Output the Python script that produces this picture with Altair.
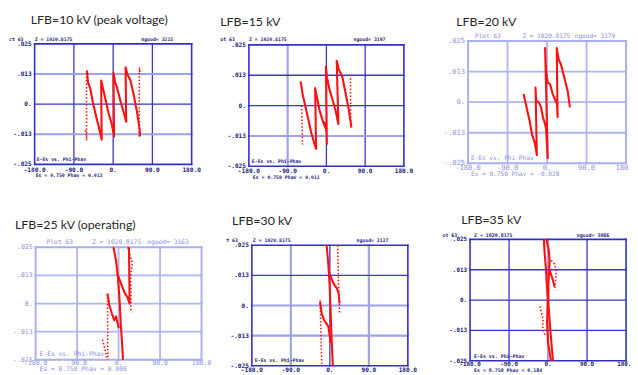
import altair as alt
import pandas as pd

# ---------------- text content ----------------
titles = ["LFB=10 kV (peak voltage)", "LFB=15 kV", "LFB=20 kV",
          "LFB=25 kV (operating)", "LFB=30 kV", "LFB=35 kV"]
plot_tags = ["ct 63", "ot 63", "Plot 63", "Plot 63", "t 63", "ot 63"]
ngood = ["3215", "3197", "3179", "3163", "3127", "3086"]
phav = ["0.013", "0.011", "-0.028", "0.008", "", "0.184"]

x_ticks = [-180, -90, 0, 90, 180]
x_tick_labels = ["-180.0", "-90.0", "0.", "90.0", "180.0"]
y_ticks = [-0.025, -0.0125, 0, 0.0125, 0.025]
y_tick_labels = ["-.025", "-.013", "0.", ".013", ".025"]
x_grid = [-90, 0, 90]
y_grid = [0.0125, 0, -0.0125]

# ---------------- data (phi-phav [deg], E-Es) ----------------
# Panel 1: LFB=10 kV
p1_main_phi = [-60, -57.8, -52.4, -46.6, -38.9, -33.1, -26.3, -27.5, -24, -18, -10.5, -3.8, 2.2,
               0.7, 4.5, 9.7, 17.3, 24.8, 29.9, 28.5, 32.2, 39.8, 47.3, 54.7, 60.8, 61.5]
p1_main_e = [0.0139, 0.0091, 0.0064, 0.0009, -0.0052, -0.0093, -0.0148, 0.0098, 0.0071, 0.0023,
             -0.0038, -0.0079, -0.0134, 0.0130, 0.0091, 0.0064, 0.0009, -0.0038, -0.0073, 0.0153,
             0.0126, 0.0098, 0.0037, -0.0032, -0.0107, -0.0134]
p1_left_phi = [-61, -61]
p1_left_e = [-0.0150, 0.0140]
p1_right_phi = [60, 60, 62.5]
p1_right_e = [-0.0134, 0.0153, 0.0125]
p1_scat_phi = [-64, -62, -60]
p1_scat_e = [-0.0108, -0.0125, -0.0150]

# Panel 2: LFB=15 kV
p2_main_phi = [-59.7, -55.8, -50.6, -42.8, -35.3, -27.8, -23.9, -26.2, -22.3, -16.4, -8.7, -2.7,
               -4.5, 0.5, 1.1, -1.1, 1.1, 6.4, 14.1, 21.6, 27.8, 23.9, 29.2, 36.9, 44.4, 51.9, 58.1]
p2_main_e = [0.0100, 0.0052, 0.0011, -0.0050, -0.0111, -0.0158, -0.0178, 0.0072, 0.0039, -0.0015,
             -0.0063, -0.0090, -0.0070, -0.0111, -0.0158, 0.0161, 0.0120, 0.0072, 0.0025, -0.0022,
             -0.0076, 0.0185, 0.0147, 0.0120, 0.0052, -0.0015, -0.0090]
p2_left_phi = [-57.5, -55.5]
p2_left_e = [0.0, -0.0160]
p2_right_phi = [55.8, 56.5]
p2_right_e = [0.0127, -0.0090]

# Panel 3: LFB=20 kV
p3_main_phi = [-53.5, -47.6, -39.9, -34.0, -28.6, -24.9, -23.3, -26.3, -24.9, -18.8, -13.6, -9.7,
               -5.9, -2.3, 1.6, -4.5, -2.3, 1.6, 6.8, 12.9, 19.0, 22.7, 24.0, 22.0, 26.5, 31.7,
               39.4, 46.9, 52.1]
p3_main_e = [0.0033, -0.0014, -0.0075, -0.0135, -0.0162, -0.0196, -0.0216, 0.0060, 0.0006, -0.0001,
             -0.0021, -0.0061, -0.0081, -0.0108, -0.0229, 0.0221, 0.0127, 0.0080, 0.0073, 0.0033,
             0.0006, -0.0007, -0.0061, 0.0221, 0.0174, 0.0154, 0.0100, 0.0046, -0.0021]

# Panel 4: LFB=25 kV
p4_long_phi = [-11.1, -5.4, -1.1, 2.6, 4.7, 7.5, 9.6]
p4_long_e = [0.0250, 0.0190, 0.0110, 0.0, -0.0088, -0.0176, -0.0250]
p4_up_phi = [-2.6, 2.6, 8.1, 13.9, 18.9, 24.0, 22.5]
p4_up_e = [0.0132, 0.0103, 0.0074, 0.0044, 0.0030, 0.0, 0.0250]
p4_low_phi = [-24.0, -20.4, -14.6, -9.6, -5.4, -2.1, 0.5]
p4_low_e = [0.0044, -0.0004, -0.0044, -0.0074, -0.0057, -0.0088, -0.0110]
p4_updots_phi = [20, 27, 30, 26, 27, 26.5]
p4_updots_e = [0.025, 0.020, 0.018, 0.012, 0.004, -0.004]
p4_lowvert_phi = [-24.0, -23.5]
p4_lowvert_e = [0.0044, -0.025]
p4_scat_phi = [-35, -30, -26]
p4_scat_e = [-0.016, -0.020, -0.024]

# Panel 5: LFB=30 kV
p5_long_phi = [-7.4, -3.6, -0.7, 1.6, 3.8, 6.8]
p5_long_e = [0.025, 0.0172, 0.0090, -0.0019, -0.0128, -0.025]
p5_up_phi = [-2.2, 5.4, 11.3, 16.6, 20.3, 22.5]
p5_up_e = [0.0138, 0.0104, 0.0083, 0.0070, 0.0049, 0.0008]
p5_low_phi = [-22.5, -18.7, -13.5, -8.1, -3.6, -0.7, 1.6]
p5_low_e = [0.0015, -0.0033, -0.0060, -0.0074, -0.0087, -0.0122, -0.0156]
p5_updots_phi = [18, 20, 22.5]
p5_updots_e = [0.025, 0.010, -0.0033]
p5_lowdots_phi = [-22.5, -18.7]
p5_lowdots_e = [0.0022, -0.025]

# Panel 6: LFB=35 kV
p6_left_phi = [-9.7, -8.3, -5.2, -0.7, -2.3, 0.0, 6.8]
p6_left_e = [0.025, 0.0204, 0.0136, 0.0001, -0.0095, -0.0176, -0.025]
p6_right_phi = [-3.8, 1.6, 3.8, 0.7, 0.7, 5.2, 8.3, 11.3]
p6_right_e = [0.025, 0.0204, 0.0163, 0.0068, -0.0013, -0.0121, -0.0189, -0.025]
p6_branch_phi = [3.8, 11.3, 15.0]
p6_branch_e = [0.0123, 0.0082, 0.0055]
p6_updots_phi = [7.4, 15, 18.7, 17.3, 15, 18.7]
p6_updots_e = [0.0163, 0.0148, 0.0122, 0.0082, 0.0055, 0.0041]
p6_lowdots_phi = [-18.7, -15, -11.3, -12.8, -9.7, -5.2]
p6_lowdots_e = [-0.0026, -0.0054, -0.0080, -0.0108, -0.0135, -0.0148]

strokes = [
    [("solid", p1_main_phi, p1_main_e), ("dot", p1_left_phi, p1_left_e),
     ("dot", p1_right_phi, p1_right_e), ("dot", p1_scat_phi, p1_scat_e)],
    [("solid", p2_main_phi, p2_main_e), ("dot", p2_left_phi, p2_left_e),
     ("dot", p2_right_phi, p2_right_e)],
    [("solid", p3_main_phi, p3_main_e)],
    [("solid", p4_long_phi, p4_long_e), ("solid", p4_up_phi, p4_up_e), ("solid", p4_low_phi, p4_low_e),
     ("dot", p4_updots_phi, p4_updots_e), ("dot", p4_lowvert_phi, p4_lowvert_e),
     ("dot", p4_scat_phi, p4_scat_e)],
    [("solid", p5_long_phi, p5_long_e), ("solid", p5_up_phi, p5_up_e), ("solid", p5_low_phi, p5_low_e),
     ("dot", p5_updots_phi, p5_updots_e), ("dot", p5_lowdots_phi, p5_lowdots_e)],
    [("solid", p6_left_phi, p6_left_e), ("solid", p6_right_phi, p6_right_e),
     ("solid", p6_branch_phi, p6_branch_e), ("dot", p6_updots_phi, p6_updots_e),
     ("dot", p6_lowdots_phi, p6_lowdots_e)],
]

# ---------------- styling / layout ----------------
W, H, M = 630, 367, 8          # drawing size and page margin
RED = "#ff1010"
DARK_FRAME = "#3030c8"
DARK_TEXT = "#20207a"
LIGHT_FRAME = "#a9aff0"
LIGHT_TEXT = "#8a90dc"
GRID_STYLE = {"d": ("#3636cc", 1.3), "l": ("#9ea2ea", 2.2), "L": ("#b0b5f2", 1.8)}
MONO = "DejaVu Sans Mono"
TITLE_FONT = "Lato"

light = [False, False, True, True, False, False]
# plot boxes in page pixels: left, right, top, bottom
boxes = [(35, 194, 42, 164), (252, 409, 43, 166), (474, 634, 39, 163),
         (36, 204, 248, 362), (255, 413, 246, 368), (476, 634, 240, 363)]
gx_style = [["d", "d", "d"], ["l", "d", "d"], ["L", "L", "L"],
            ["L", "L", "L"], ["l", "d", "l"], ["d", "l", "d"]]
gy_style = [["l", "d", "l"], ["d", "d", "l"], ["L", "L", "L"],
            ["L", "L", "L"], ["d", "l", "l"], ["d", "d", "d"]]
xlab_dy = [5.4, 4.3, 4.6, 2.8, 4.4, 3.4]
tick_fs = [6.2, 6.2, 7.2, 6.6, 6.2, 6.0]
small_fs = [4.9, 4.9, 6.2, 6.4, 4.9, 5.0]
# free texts: (text, left x, centre y) in page pixels
title_pos = [(31, 21.7), (223, 24.3), (462, 24), (15, 229), (235, 225), (467, 224.7)]
tag_pos = [(9, 38), (223, 38), (481, 34), (47, 243), (229, 241.7), (448, 235.7)]
z_pos = [(35, 38), (252, 38), (529, 34), (93, 243), (256, 241.7), (480, 235.7)]
ng_pos = [(143, 38), (358, 38), (582, 34), (149, 243), (361, 241.7), (584, 235.7)]
leg_pos = [(37, 160), (255, 161.3), (477, 157.3), (40, 355.7), (258, 363.3), (480, 357.7)]
es_pos = [(36, 176), (256, 177.7), (477, 174), (40, 371.7), None, (480, 372.7)]


def panel_layers(i):
    L, R, T, B = boxes[i]
    lt = light[i]
    tc = LIGHT_TEXT if lt else DARK_TEXT
    fw = "normal" if lt else "bold"
    X = lambda f: alt.X(f, scale=alt.Scale(domain=[-180, 180], range=[L - M, R - M],
                                           nice=False, zero=False), axis=None)
    Y = lambda f: alt.Y(f, scale=alt.Scale(domain=[-0.025, 0.025], range=[B - M, T - M],
                                           nice=False, zero=False), axis=None)
    out = []

    # grid lines and frame
    rules = []
    for v, s in zip(x_grid, gx_style[i]):
        c, w = GRID_STYLE[s]
        rules.append({"x1": v, "x2": v, "y1": -0.025, "y2": 0.025, "c": c, "w": w})
    for v, s in zip(y_grid, gy_style[i]):
        c, w = GRID_STYLE[s]
        rules.append({"x1": -180, "x2": 180, "y1": v, "y2": v, "c": c, "w": w})
    fc, fwid = (LIGHT_FRAME, 2.0) if lt else (DARK_FRAME, 1.6)
    for a, b, c_, d in [(-180, -180, -0.025, 0.025), (180, 180, -0.025, 0.025),
                        (-180, 180, 0.025, 0.025), (-180, 180, -0.025, -0.025)]:
        rules.append({"x1": a, "x2": b, "y1": c_, "y2": d, "c": fc, "w": fwid})
    out.append(alt.Chart(pd.DataFrame(rules)).mark_rule(strokeCap="square").encode(
        x=X("x1:Q"), x2="x2:Q", y=Y("y1:Q"), y2="y2:Q",
        color=alt.Color("c:N", scale=None), strokeWidth=alt.StrokeWidth("w:Q", scale=None)))

    # red traces
    rows = []
    for s, (style, xs, ys) in enumerate(strokes[i]):
        for j, (a, b) in enumerate(zip(xs, ys)):
            rows.append({"seg": s, "i": j, "style": style, "phi": a, "e": b})
    df = pd.DataFrame(rows)
    sol = df[df["style"] == "solid"]
    out.append(alt.Chart(sol).mark_line(color=RED, strokeWidth=2.1, strokeJoin="round").encode(
        x=X("phi:Q"), y=Y("e:Q"), detail="seg:N", order="i:Q"))
    dot = df[df["style"] == "dot"]
    if len(dot):
        out.append(alt.Chart(dot).mark_line(color=RED, strokeWidth=1.6,
                                            strokeDash=[1.5, 2]).encode(
            x=X("phi:Q"), y=Y("e:Q"), detail="seg:N", order="i:Q"))

    # tick labels
    xl = pd.DataFrame({"phi": x_ticks, "e": [-0.025] * 5, "t": x_tick_labels})
    out.append(alt.Chart(xl).mark_text(font=MONO, fontSize=tick_fs[i], fontWeight=fw, color=tc,
                                       align="center", baseline="middle", dy=xlab_dy[i]).encode(
        x=X("phi:Q"), y=Y("e:Q"), text="t:N"))
    yl = pd.DataFrame({"phi": [-180] * 5, "e": y_ticks, "t": y_tick_labels})
    out.append(alt.Chart(yl).mark_text(font=MONO, fontSize=tick_fs[i], fontWeight=fw, color=tc,
                                       align="right", baseline="middle", dx=-3).encode(
        x=X("phi:Q"), y=Y("e:Q"), text="t:N"))

    # header / footer texts of the panel
    ng = ("ngood=  " if lt else "ngood= ") + ngood[i]
    items = [(plot_tags[i], tag_pos[i]), ("Z = 1020.8175", z_pos[i]), (ng, ng_pos[i]),
             ("E-Es vs. Phi-Phav", leg_pos[i])]
    if es_pos[i] is not None:
        items.append(("Es =    0.750 Phav =   " + phav[i], es_pos[i]))
    td = pd.DataFrame({"t": [a for a, _ in items], "px": [p[0] - M for _, p in items],
                       "py": [p[1] - M for _, p in items]})
    out.append(alt.Chart(td).mark_text(font=MONO, fontSize=small_fs[i], fontWeight=fw, color=tc,
                                       align="left", baseline="middle").encode(
        x=alt.X("px:Q", scale=None, axis=None), y=alt.Y("py:Q", scale=None, axis=None),
        text="t:N"))
    return out


layers = []
for i in range(6):
    layers += panel_layers(i)

tt = pd.DataFrame({"t": titles, "px": [p[0] - M for p in title_pos],
                   "py": [p[1] - M for p in title_pos]})
layers.append(alt.Chart(tt).mark_text(font=TITLE_FONT, fontSize=12.5, color="#262626",
                                      align="left", baseline="alphabetic").encode(
    x=alt.X("px:Q", scale=None, axis=None), y=alt.Y("py:Q", scale=None, axis=None), text="t:N"))

chart = alt.layer(*layers).resolve_scale(
    x="independent", y="independent"
).properties(
    width=W, height=H, padding=0, background="white",
    autosize=alt.AutoSizeParams(type="none")
).configure_view(stroke="transparent")

chart.save("out.html", embed_options={"renderer": "svg", "actions": False})
